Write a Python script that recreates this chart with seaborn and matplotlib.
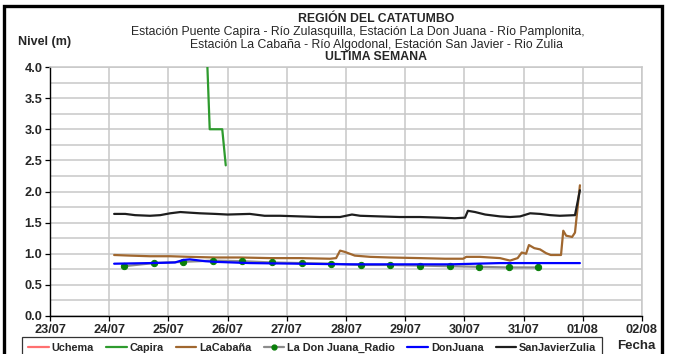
import matplotlib
matplotlib.use("Agg")
import matplotlib.pyplot as plt
import matplotlib.dates as mdates
from matplotlib.lines import Line2D
from matplotlib.patches import Rectangle
from matplotlib.ticker import MultipleLocator, FormatStrFormatter
import pandas as pd
import seaborn as sns

# ---- series data (nivel in metres) ----
uchema_time = []
uchema_level = []

capira_time = ["2024-07-25 15:15", "2024-07-25 16:45", "2024-07-25 21:50", "2024-07-25 23:15"]
capira_level = [4.60, 3.00, 3.00, 2.42]

cabana_time = [
    "2024-07-24 02:00", "2024-07-24 08:30", "2024-07-24 16:30", "2024-07-25 00:45",
    "2024-07-25 08:40", "2024-07-25 19:00", "2024-07-26 05:00", "2024-07-26 17:15",
    "2024-07-27 05:15", "2024-07-27 17:30", "2024-07-27 20:00", "2024-07-27 21:35",
    "2024-07-27 23:30", "2024-07-28 03:35", "2024-07-28 09:50", "2024-07-28 17:45",
    "2024-07-29 06:00", "2024-07-29 16:05", "2024-07-29 23:30", "2024-07-30 00:45",
    "2024-07-30 06:15", "2024-07-30 14:25", "2024-07-30 18:30", "2024-07-30 21:35",
    "2024-07-30 23:15", "2024-07-31 01:00", "2024-07-31 02:10", "2024-07-31 04:20",
    "2024-07-31 06:40", "2024-07-31 09:05", "2024-07-31 11:00", "2024-07-31 15:10",
    "2024-07-31 16:05", "2024-07-31 17:15", "2024-07-31 19:40", "2024-07-31 20:50",
    "2024-07-31 22:50",
]
cabana_level = [
    0.98, 0.97, 0.96, 0.96, 0.95, 0.94, 0.94, 0.93,
    0.93, 0.92, 0.93, 1.05, 1.03, 0.97, 0.95, 0.94,
    0.93, 0.92, 0.92, 0.95, 0.95, 0.93, 0.89, 0.93,
    1.02, 1.00, 1.14, 1.09, 1.07, 1.01, 0.98, 0.98,
    1.37, 1.29, 1.27, 1.34, 2.10,
]

radio_time = [
    "2024-07-24 06:00", "2024-07-24 18:00", "2024-07-25 06:00", "2024-07-25 18:00",
    "2024-07-26 06:00", "2024-07-26 18:00", "2024-07-27 06:00", "2024-07-27 18:00",
    "2024-07-28 06:00", "2024-07-28 18:00", "2024-07-29 06:00", "2024-07-29 18:00",
    "2024-07-30 06:00", "2024-07-30 18:00", "2024-07-31 06:00",
]
radio_level = [0.80, 0.85, 0.87, 0.89, 0.88, 0.86, 0.85, 0.84,
               0.82, 0.82, 0.81, 0.80, 0.79, 0.78, 0.78]

donjuana_time = [
    "2024-07-24 02:00", "2024-07-24 16:30", "2024-07-25 02:40", "2024-07-25 06:00",
    "2024-07-25 08:40", "2024-07-25 15:00", "2024-07-25 19:00", "2024-07-26 09:00",
    "2024-07-27 05:15", "2024-07-28 01:40", "2024-07-28 21:50", "2024-07-29 18:15",
    "2024-07-30 14:25", "2024-07-31 06:40", "2024-07-31 22:50",
]
donjuana_level = [0.84, 0.85, 0.86, 0.90, 0.91, 0.88, 0.87, 0.85,
                  0.84, 0.83, 0.83, 0.83, 0.85, 0.85, 0.85]

sanjavier_time = [
    "2024-07-24 02:00", "2024-07-24 06:30", "2024-07-24 10:30", "2024-07-24 16:30",
    "2024-07-24 20:40", "2024-07-25 00:45", "2024-07-25 04:50", "2024-07-25 08:40",
    "2024-07-25 12:45", "2024-07-25 19:00", "2024-07-26 00:00", "2024-07-26 09:00",
    "2024-07-26 15:00", "2024-07-26 21:20", "2024-07-27 05:15", "2024-07-27 13:25",
    "2024-07-27 21:35", "2024-07-28 02:25", "2024-07-28 05:45", "2024-07-28 13:40",
    "2024-07-28 21:50", "2024-07-29 06:00", "2024-07-29 14:10", "2024-07-29 20:10",
    "2024-07-30 00:15", "2024-07-30 01:25", "2024-07-30 04:20", "2024-07-30 08:25",
    "2024-07-30 14:25", "2024-07-30 18:30", "2024-07-30 22:35", "2024-07-31 02:40",
    "2024-07-31 06:40", "2024-07-31 10:50", "2024-07-31 14:40", "2024-07-31 20:50",
    "2024-07-31 22:50",
]
sanjavier_level = [
    1.64, 1.64, 1.62, 1.61, 1.62, 1.65, 1.67, 1.66,
    1.65, 1.64, 1.63, 1.64, 1.61, 1.61, 1.60, 1.59,
    1.59, 1.63, 1.61, 1.60, 1.59, 1.59, 1.58, 1.57,
    1.58, 1.69, 1.67, 1.63, 1.60, 1.59, 1.60, 1.65,
    1.64, 1.62, 1.61, 1.62, 2.02,
]

x_start, x_end = "2024-07-23", "2024-08-02"

series = [
    ("Uchema", uchema_time, uchema_level, "#ff7070", None),
    ("Capira", capira_time, capira_level, "#2e9b2e", None),
    ("LaCabaña", cabana_time, cabana_level, "#a0672f", None),
    ("La Don Juana_Radio", radio_time, radio_level, "#8c8c8c", "#0a7f0a"),
    ("DonJuana", donjuana_time, donjuana_level, "#0000ff", None),
    ("SanJavierZulia", sanjavier_time, sanjavier_level, "#1e1e1e", None),
]

sns.set_style("white")
plt.rcParams["font.family"] = ["Liberation Sans", "DejaVu Sans"]

W, H = 674, 354
fig = plt.figure(figsize=(W / 100, H / 100), dpi=100)
ax = fig.add_axes([50 / W, 1 - 316 / H, (642 - 50) / W, (316 - 67) / H])

handles = []
for name, t, v, color, mcolor in series:
    df = pd.DataFrame({"Fecha": pd.to_datetime(t), "Nivel": v})
    if len(df):
        if mcolor is None:
            sns.lineplot(data=df, x="Fecha", y="Nivel", ax=ax, color=color,
                         linewidth=1.6, legend=False, zorder=3)
        else:
            sns.lineplot(data=df, x="Fecha", y="Nivel", ax=ax, color=color,
                         linewidth=1.6, marker="o", markersize=4.5,
                         markerfacecolor=mcolor, markeredgecolor=mcolor,
                         legend=False, zorder=3)
    if mcolor is None:
        handles.append(Line2D([], [], color=color, linewidth=1.6, label=name))
    else:
        handles.append(Line2D([], [], color=color, linewidth=1.6, marker="o",
                              markersize=3.5, markerfacecolor=mcolor,
                              markeredgecolor=mcolor, label=name))

ax.set_xlim(pd.Timestamp(x_start), pd.Timestamp(x_end))
ax.set_ylim(0, 4.0)
ax.xaxis.set_major_locator(mdates.DayLocator())
ax.xaxis.set_major_formatter(mdates.DateFormatter("%d/%m"))
ax.yaxis.set_major_locator(MultipleLocator(0.5))
ax.yaxis.set_minor_locator(MultipleLocator(0.25))
ax.yaxis.set_major_formatter(FormatStrFormatter("%.1f"))
ax.set_xlabel("")
ax.set_ylabel("")

ax.grid(True, which="major", axis="x", color="#c8c8c8", linewidth=1.1)
ax.grid(True, which="both", axis="y", color="#c8c8c8", linewidth=1.1)
ax.set_axisbelow(True)

for side in ("top", "right"):
    ax.spines[side].set_color("#c8c8c8")
    ax.spines[side].set_linewidth(1.1)
for side in ("left", "bottom"):
    ax.spines[side].set_color("black")
    ax.spines[side].set_linewidth(1.0)

ax.tick_params(axis="both", which="major", direction="out", length=3.5,
               width=0.9, color="black", labelsize=9.2, pad=2, left=True, bottom=True)
ax.tick_params(axis="y", which="minor", left=False)
for lab in ax.get_xticklabels() + ax.get_yticklabels():
    lab.set_fontweight("bold")

# titles
title_size = 8.8
fig.text(376 / W, 1 - 19.5 / H, "REGIÓN DEL CATATUMBO", ha="center", va="center",
         fontsize=title_size, fontweight="bold")
fig.text(358 / W, 1 - 32.5 / H,
         "Estación Puente Capira - Río Zulasquilla, Estación La Don Juana - Río Pamplonita,",
         ha="center", va="center", fontsize=title_size)
fig.text(376 / W, 1 - 45 / H,
         "Estación La Cabaña - Río Algodonal, Estación San Javier - Rio Zulia",
         ha="center", va="center", fontsize=title_size)
fig.text(376 / W, 1 - 57.5 / H, "ULTIMA SEMANA", ha="center", va="center",
         fontsize=title_size, fontweight="bold")
fig.text(45 / W, 1 - 42 / H, "Nivel (m)", ha="center", va="center",
         fontsize=9.0, fontweight="bold")
fig.text(636 / W, 1 - 346 / H, "Fecha", ha="center", va="center",
         fontsize=9.6, fontweight="bold")

leg = fig.legend(handles=handles, loc="upper left",
                 bbox_to_anchor=(22 / W, 1 - 337 / H), ncol=6,
                 frameon=True, fancybox=False, edgecolor="black",
                 prop={"weight": "bold", "size": 7.8}, handlelength=1.9,
                 handletextpad=0.25, columnspacing=1.15, borderpad=0.55,
                 borderaxespad=0)
leg.get_frame().set_linewidth(0.9)

# outer frame
fig.patches.append(Rectangle((4 / W, -0.1), (662 - 4) / W, 1.1 - 5.5 / H,
                             transform=fig.transFigure, fill=False,
                             edgecolor="black", linewidth=2.4, clip_on=False))

fig.savefig("out.png", dpi=100)
